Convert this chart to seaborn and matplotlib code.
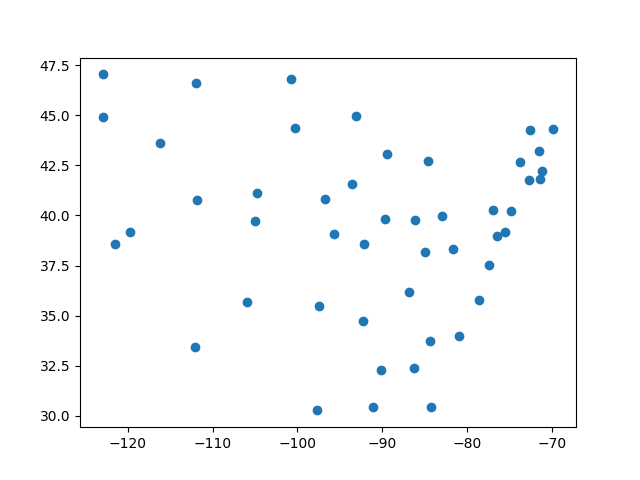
import matplotlib
matplotlib.use("Agg")
import pandas as pd
import seaborn as sns
import matplotlib.pyplot as plt

# State capitals of the contiguous US (longitude, latitude)
capitals = [
    "Olympia", "Salem", "Sacramento", "Carson City", "Boise", "Helena",
    "Salt Lake City", "Phoenix", "Santa Fe", "Denver", "Cheyenne", "Bismarck",
    "Pierre", "Lincoln", "Topeka", "Oklahoma City", "Austin", "Saint Paul",
    "Des Moines", "Jefferson City", "Little Rock", "Baton Rouge", "Jackson",
    "Madison", "Springfield", "Indianapolis", "Nashville", "Montgomery",
    "Tallahassee", "Atlanta", "Lansing", "Frankfort", "Columbus", "Charleston",
    "Columbia", "Raleigh", "Richmond", "Harrisburg", "Annapolis", "Dover",
    "Trenton", "Albany", "Montpelier", "Hartford", "Concord", "Providence",
    "Boston", "Augusta",
]
lon = [
    -122.9, -123.0, -121.5, -119.8, -116.2, -112.0,
    -111.9, -112.1, -105.9, -105.0, -104.8, -100.8,
    -100.3, -96.7, -95.7, -97.5, -97.7, -93.1,
    -93.6, -92.2, -92.3, -91.1, -90.2,
    -89.4, -89.65, -86.15, -86.8, -86.3,
    -84.3, -84.4, -84.55, -84.9, -83.0, -81.6,
    -81.0, -78.6, -77.4, -76.9, -76.5, -75.5,
    -74.8, -73.75, -72.6, -72.7, -71.5, -71.4,
    -71.1, -69.8,
]
lat = [
    47.04, 44.93, 38.58, 39.16, 43.61, 46.6,
    40.76, 33.45, 35.68, 39.74, 41.14, 46.81,
    44.37, 40.81, 39.05, 35.48, 30.27, 44.95,
    41.59, 38.58, 34.74, 30.45, 32.3,
    43.07, 39.8, 39.77, 36.17, 32.38,
    30.44, 33.75, 42.73, 38.2, 39.96, 38.35,
    34.0, 35.78, 37.54, 40.27, 38.98, 39.16,
    40.22, 42.65, 44.26, 41.76, 43.21, 41.82,
    42.23, 44.31,
]

df = pd.DataFrame({"capital": capitals, "lon": lon, "lat": lat})

fig, ax = plt.subplots(figsize=(6.4, 4.8), dpi=100)
sns.scatterplot(data=df, x="lon", y="lat", color="#1f77b4", s=36,
                edgecolor="#1f77b4", linewidth=1.0, ax=ax)
ax.set_xlabel("")
ax.set_ylabel("")
ax.set_yticks([30.0, 32.5, 35.0, 37.5, 40.0, 42.5, 45.0, 47.5])
fig.savefig("out.png", dpi=100)
